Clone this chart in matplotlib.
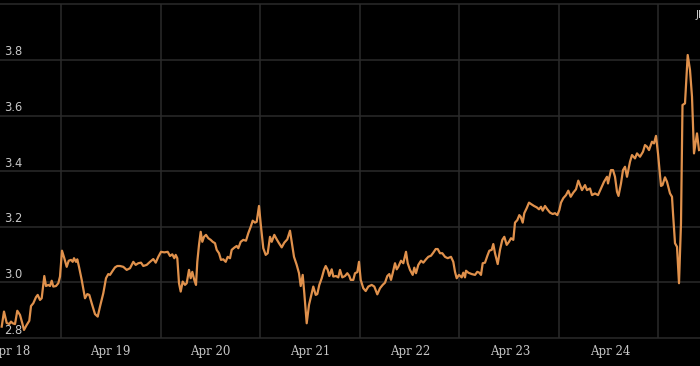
import matplotlib
matplotlib.use("Agg")
import matplotlib.pyplot as plt
import matplotlib.transforms as mtransforms

years = [
    2018.167, 2018.19, 2018.217, 2018.243, 2018.26, 2018.277, 2018.30, 2018.323, 2018.35, 2018.373,
    2018.39, 2018.417, 2018.443, 2018.46, 2018.483, 2018.51, 2018.527, 2018.55, 2018.567, 2018.593,
    2018.61, 2018.633, 2018.65, 2018.667, 2018.683, 2018.71, 2018.733, 2018.75, 2018.77, 2018.793,
    2018.817, 2018.837, 2018.86, 2018.877, 2018.89, 2018.91, 2018.923, 2018.94, 2018.967, 2019.00,
    2019.023, 2019.043, 2019.067, 2019.10, 2019.127, 2019.15, 2019.183, 2019.21, 2019.233, 2019.25,
    2019.277, 2019.30, 2019.323, 2019.35, 2019.383, 2019.417, 2019.45, 2019.483, 2019.507, 2019.533,
    2019.56, 2019.583, 2019.617, 2019.65, 2019.683, 2019.707, 2019.733, 2019.76, 2019.793, 2019.827,
    2019.85, 2019.873, 2019.893, 2019.907, 2019.923, 2019.94, 2019.957, 2019.977, 2020.00, 2020.017,
    2020.04, 2020.057, 2020.073, 2020.093, 2020.11, 2020.123, 2020.14, 2020.157, 2020.173, 2020.19,
    2020.21, 2020.233, 2020.257, 2020.277, 2020.30, 2020.317, 2020.34, 2020.36, 2020.383, 2020.407,
    2020.427, 2020.45, 2020.467, 2020.493, 2020.517, 2020.533, 2020.557, 2020.583, 2020.61, 2020.633,
    2020.657, 2020.677, 2020.70, 2020.717, 2020.74, 2020.76, 2020.783, 2020.807, 2020.827, 2020.85,
    2020.867, 2020.893, 2020.917, 2020.94, 2020.967, 2020.993, 2021.023, 2021.05, 2021.067, 2021.09,
    2021.117, 2021.14, 2021.157, 2021.177, 2021.193, 2021.217, 2021.24, 2021.267, 2021.283, 2021.307,
    2021.323, 2021.343, 2021.367, 2021.39, 2021.407, 2021.427, 2021.443, 2021.467, 2021.483, 2021.51,
    2021.533, 2021.55, 2021.573, 2021.60, 2021.623, 2021.643, 2021.657, 2021.683, 2021.70, 2021.723,
    2021.74, 2021.757, 2021.783, 2021.807, 2021.833, 2021.867, 2021.893, 2021.923, 2021.95, 2021.977,
    2022.00, 2022.023, 2022.043, 2022.06, 2022.077, 2022.10, 2022.117, 2022.133, 2022.16, 2022.183,
    2022.21, 2022.227, 2022.25, 2022.277, 2022.293, 2022.31, 2022.333, 2022.36, 2022.383, 2022.41,
    2022.433, 2022.46, 2022.483, 2022.507, 2022.527, 2022.55, 2022.573, 2022.60, 2022.627, 2022.66,
    2022.683, 2022.70, 2022.717, 2022.74, 2022.767, 2022.783, 2022.80, 2022.81, 2022.833, 2022.867,
    2022.90, 2022.923, 2022.943, 2022.96, 2022.977, 2023.00, 2023.023, 2023.043, 2023.067, 2023.083,
    2023.10, 2023.127, 2023.15, 2023.173, 2023.193, 2023.217, 2023.24, 2023.26, 2023.283, 2023.30,
    2023.323, 2023.343, 2023.357, 2023.377, 2023.393, 2023.417, 2023.44, 2023.46, 2023.49, 2023.517,
    2023.54, 2023.56, 2023.577, 2023.60, 2023.623, 2023.65, 2023.677, 2023.70, 2023.723, 2023.743,
    2023.76, 2023.783, 2023.81, 2023.833, 2023.857, 2023.883, 2023.91, 2023.933, 2023.97, 2024.00,
    2024.02, 2024.05, 2024.07, 2024.10, 2024.13, 2024.16, 2024.19, 2024.22, 2024.23, 2024.26,
    2024.28, 2024.30, 2024.32, 2024.335, 2024.36, 2024.38, 2024.40, 2024.42, 2024.45, 2024.47,
    2024.50, 2024.52, 2024.55, 2024.58, 2024.60, 2024.62, 2024.64, 2024.67, 2024.69, 2024.71,
    2024.73, 2024.76, 2024.775, 2024.80, 2024.82, 2024.85, 2024.87, 2024.88, 2024.90, 2024.92,
    2024.94, 2024.96, 2024.975, 2025.00, 2025.027, 2025.05, 2025.07, 2025.09, 2025.12, 2025.14,
]
values = [
    2.841, 2.895, 2.854, 2.850, 2.859, 2.853, 2.850, 2.898, 2.883, 2.853,
    2.829, 2.847, 2.862, 2.915, 2.925, 2.947, 2.955, 2.937, 2.943, 3.023,
    2.987, 2.991, 2.987, 3.006, 2.985, 2.987, 2.997, 3.021, 3.114, 3.087,
    3.056, 3.078, 3.081, 3.074, 3.087, 3.074, 3.083, 3.056, 3.009, 2.943,
    2.958, 2.955, 2.925, 2.886, 2.877, 2.913, 2.961, 3.015, 3.030, 3.027,
    3.042, 3.054, 3.059, 3.059, 3.056, 3.045, 3.051, 3.074, 3.063, 3.069,
    3.071, 3.059, 3.063, 3.074, 3.084, 3.071, 3.092, 3.110, 3.108, 3.110,
    3.095, 3.101, 3.087, 3.099, 3.087, 2.997, 2.967, 3.003, 2.991, 2.997,
    3.045, 3.015, 3.038, 3.009, 2.991, 3.074, 3.135, 3.182, 3.146, 3.164,
    3.171, 3.159, 3.153, 3.146, 3.141, 3.117, 3.105, 3.081, 3.083, 3.074,
    3.092, 3.087, 3.117, 3.125, 3.131, 3.123, 3.146, 3.153, 3.150, 3.177,
    3.200, 3.222, 3.215, 3.218, 3.275, 3.200, 3.123, 3.099, 3.105, 3.164,
    3.146, 3.171, 3.155, 3.141, 3.126, 3.143, 3.155, 3.186, 3.146, 3.092,
    3.063, 3.033, 2.987, 3.027, 2.961, 2.853, 2.919, 2.961, 2.985, 2.955,
    2.958, 2.991, 3.015, 3.045, 3.059, 3.045, 3.023, 3.047, 3.021, 3.023,
    3.018, 3.045, 3.018, 3.023, 3.033, 3.023, 3.009, 3.009, 3.033, 3.037,
    3.074, 3.009, 2.979, 2.969, 2.985, 2.991, 2.985, 2.957, 2.979, 2.991,
    2.999, 3.023, 3.030, 3.009, 3.033, 3.069, 3.047, 3.056, 3.078, 3.069,
    3.110, 3.069, 3.045, 3.027, 3.053, 3.033, 3.063, 3.078, 3.071, 3.083,
    3.092, 3.096, 3.107, 3.120, 3.120, 3.105, 3.105, 3.092, 3.087, 3.092,
    3.074, 3.038, 3.015, 3.027, 3.018, 3.035, 3.018, 3.042, 3.035, 3.030,
    3.027, 3.038, 3.035, 3.027, 3.069, 3.071, 3.095, 3.114, 3.117, 3.138,
    3.105, 3.066, 3.117, 3.153, 3.164, 3.135, 3.146, 3.159, 3.153, 3.215,
    3.224, 3.242, 3.236, 3.215, 3.249, 3.267, 3.287, 3.282, 3.275, 3.270,
    3.263, 3.272, 3.258, 3.275, 3.263, 3.251, 3.246, 3.249, 3.242, 3.260,
    3.287, 3.303, 3.314, 3.330, 3.308, 3.323, 3.335, 3.366, 3.332, 3.350,
    3.332, 3.338, 3.314, 3.320, 3.314, 3.338, 3.362, 3.380, 3.356, 3.404,
    3.404, 3.380, 3.326, 3.311, 3.356, 3.404, 3.416, 3.380, 3.434, 3.458,
    3.446, 3.464, 3.452, 3.470, 3.494, 3.488, 3.476, 3.506, 3.500, 3.527,
    3.464, 3.347, 3.350, 3.378, 3.362, 3.320, 3.308, 3.249, 3.141, 3.128,
    2.997, 3.213, 3.638, 3.644, 3.818, 3.764, 3.668, 3.464, 3.536, 3.476,
]

label_years = [2018.25, 2019.25, 2020.25, 2021.25, 2022.25, 2023.25, 2024.25]
label_texts = ["Apr 18", "Apr 19", "Apr 20", "Apr 21", "Apr 22", "Apr 23", "Apr 24"]
grid_years = [2018.76, 2019.76, 2020.75, 2021.75, 2022.74, 2023.74, 2024.73]
y_ticks = [2.8, 3.0, 3.2, 3.4, 3.6, 3.8, 4.0]

bg = "#000000"
grid = "#2b2b2b"
orange = "#e0914c"
text_grey = "#c8c8c8"

fig = plt.figure(figsize=(7.0, 3.66), dpi=100, facecolor=bg)
ax = fig.add_axes((0, 0.0765, 1, 0.9115))
ax.set_facecolor(bg)
ax.set_xlim(2018.15, 2025.15)
ax.set_ylim(2.8, 4.0)

for y in y_ticks:
    ax.axhline(y, color=grid, linewidth=1.1, zorder=1, clip_on=False)
for x in grid_years:
    ax.axvline(x, color=grid, linewidth=1.1, zorder=1)

ax.plot(years, values, color=orange, linewidth=1.6, zorder=3, solid_joinstyle="round")

for side in ax.spines.values():
    side.set_visible(False)
ax.set_xticks([])
ax.set_yticks([])

# y labels sit inside the plot, just above their grid lines
offset = mtransforms.offset_copy(ax.get_yaxis_transform(), fig=fig, x=4, y=1.5, units="dots")
for y in y_ticks[:-1]:
    ax.text(0, y, f"{y:.1f}", transform=offset, color=text_grey, fontsize=8.3,
            family="DejaVu Sans", ha="left", va="bottom")

below = mtransforms.offset_copy(ax.get_xaxis_transform(), fig=fig, x=0, y=-13, units="dots")
for x, label in zip(label_years, label_texts):
    ax.text(x, 0, label, transform=below, color=text_grey, fontsize=8.5,
            family="DejaVu Serif", ha="center", va="center", clip_on=False)

# series label at the top right, cut off by the figure edge as in the source
fig.text(695.5 / 700, 1 - 15 / 366, "JPY", color=text_grey, fontsize=7.5,
         family="DejaVu Sans", ha="left", va="center")

fig.savefig("out.png", dpi=100, facecolor=bg)
